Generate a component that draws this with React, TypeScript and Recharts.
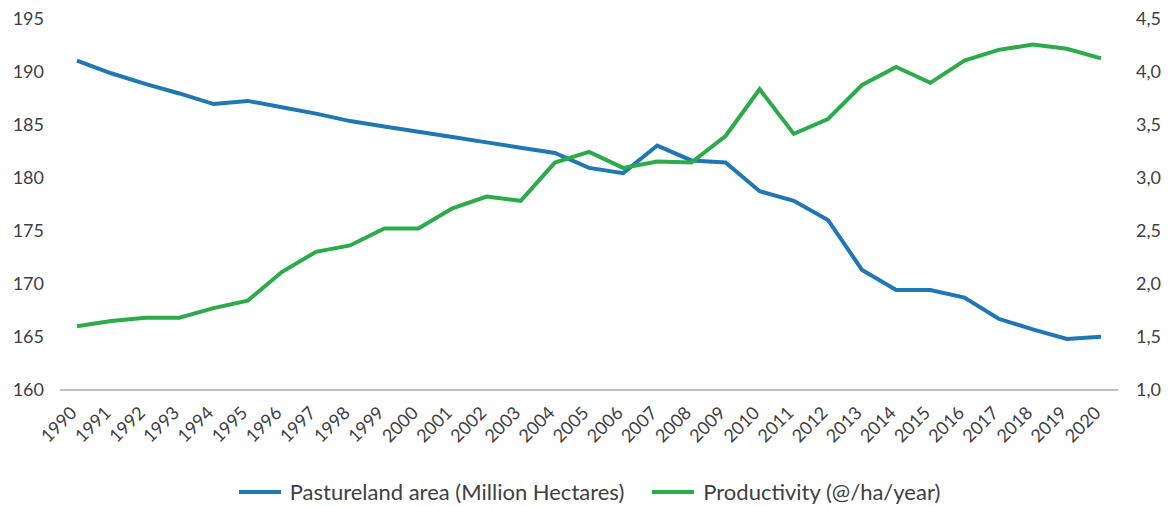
import { LineChart, Line, XAxis, YAxis, Legend } from "recharts";

const years = [
  "1990", "1991", "1992", "1993", "1994", "1995", "1996", "1997", "1998", "1999",
  "2000", "2001", "2002", "2003", "2004", "2005", "2006", "2007", "2008", "2009",
  "2010", "2011", "2012", "2013", "2014", "2015", "2016", "2017", "2018", "2019", "2020",
];

const pastureland = [
  191.0, 189.8, 188.8, 187.9, 186.9, 187.2, 186.6, 186.0, 185.3, 184.8,
  184.3, 183.8, 183.3, 182.8, 182.3, 180.9, 180.4, 183.0, 181.6, 181.4,
  178.7, 177.8, 176.0, 171.3, 169.4, 169.4, 168.7, 166.7, 165.7, 164.8, 165.0,
];

const productivity = [
  1.6, 1.65, 1.68, 1.68, 1.77, 1.84, 2.11, 2.3, 2.36, 2.52,
  2.52, 2.71, 2.82, 2.78, 3.14, 3.24, 3.09, 3.15, 3.14, 3.39,
  3.83, 3.41, 3.55, 3.87, 4.04, 3.89, 4.1, 4.2, 4.25, 4.21, 4.12,
];

const leftTicks = [160, 165, 170, 175, 180, 185, 190, 195];
const rightTicks = [1.0, 1.5, 2.0, 2.5, 3.0, 3.5, 4.0, 4.5];

const data = years.map((year, i) => ({
  year,
  area: pastureland[i],
  prod: productivity[i],
}));

const BLUE = "#1f77b4";
const GREEN = "#2bab4a";
const TEXT = "#404040";
const FONT = "Lato, 'Open Sans', sans-serif";

const YearTick = (props: any) => {
  const { x, y, payload } = props;
  const ax = x + 1;
  const ay = y + 22;
  return (
    <text
      x={ax}
      y={ay}
      textAnchor="end"
      transform={`rotate(-45 ${ax} ${ay})`}
      fill={TEXT}
      fontSize={18}
      fontFamily={FONT}
    >
      {payload.value}
    </text>
  );
};

const LegendContent = () => (
  <div
    style={{
      display: "flex",
      justifyContent: "center",
      alignItems: "center",
      fontFamily: FONT,
      fontSize: 22,
      color: TEXT,
      gap: 28,
    }}
  >
    {[
      { label: "Pastureland area (Million Hectares)", color: BLUE },
      { label: "Productivity (@/ha/year)", color: GREEN },
    ].map((item) => (
      <div key={item.label} style={{ display: "flex", alignItems: "center" }}>
        <span
          style={{
            display: "inline-block",
            width: 42,
            height: 4,
            background: item.color,
            marginRight: 9,
          }}
        />
        {item.label}
      </div>
    ))}
  </div>
);

export default function App() {
  return (
    <LineChart
      width={1163}
      height={498}
      data={data}
      margin={{ top: 10, right: 0, left: 0, bottom: 0 }}
    >
      <XAxis
        dataKey="year"
        interval={0}
        tickLine={false}
        tickSize={0}
        height={84}
        padding={{ left: 17, right: 17 }}
        stroke="#808080"
        tick={<YearTick />}
      />
      <YAxis
        yAxisId="left"
        domain={[160, 195]}
        ticks={leftTicks}
        width={52}
        axisLine={false}
        tickLine={false}
        tickSize={0}
        tickMargin={16}
        tick={{ fill: TEXT, fontSize: 18, fontFamily: FONT }}
      />
      <YAxis
        yAxisId="right"
        orientation="right"
        domain={[1, 4.5]}
        ticks={rightTicks}
        width={53}
        axisLine={false}
        tickLine={false}
        tickSize={0}
        tickMargin={18}
        tickFormatter={(v: number) => v.toFixed(1).replace(".", ",")}
        tick={{ fill: TEXT, fontSize: 18, fontFamily: FONT }}
      />
      <Legend
        verticalAlign="bottom"
        height={32}
        wrapperStyle={{ bottom: -4 }}
        content={<LegendContent />}
      />
      <Line
        yAxisId="left"
        dataKey="area"
        stroke={BLUE}
        strokeWidth={4}
        dot={false}
        isAnimationActive={false}
      />
      <Line
        yAxisId="right"
        dataKey="prod"
        stroke={GREEN}
        strokeWidth={4}
        dot={false}
        isAnimationActive={false}
      />
    </LineChart>
  );
}
